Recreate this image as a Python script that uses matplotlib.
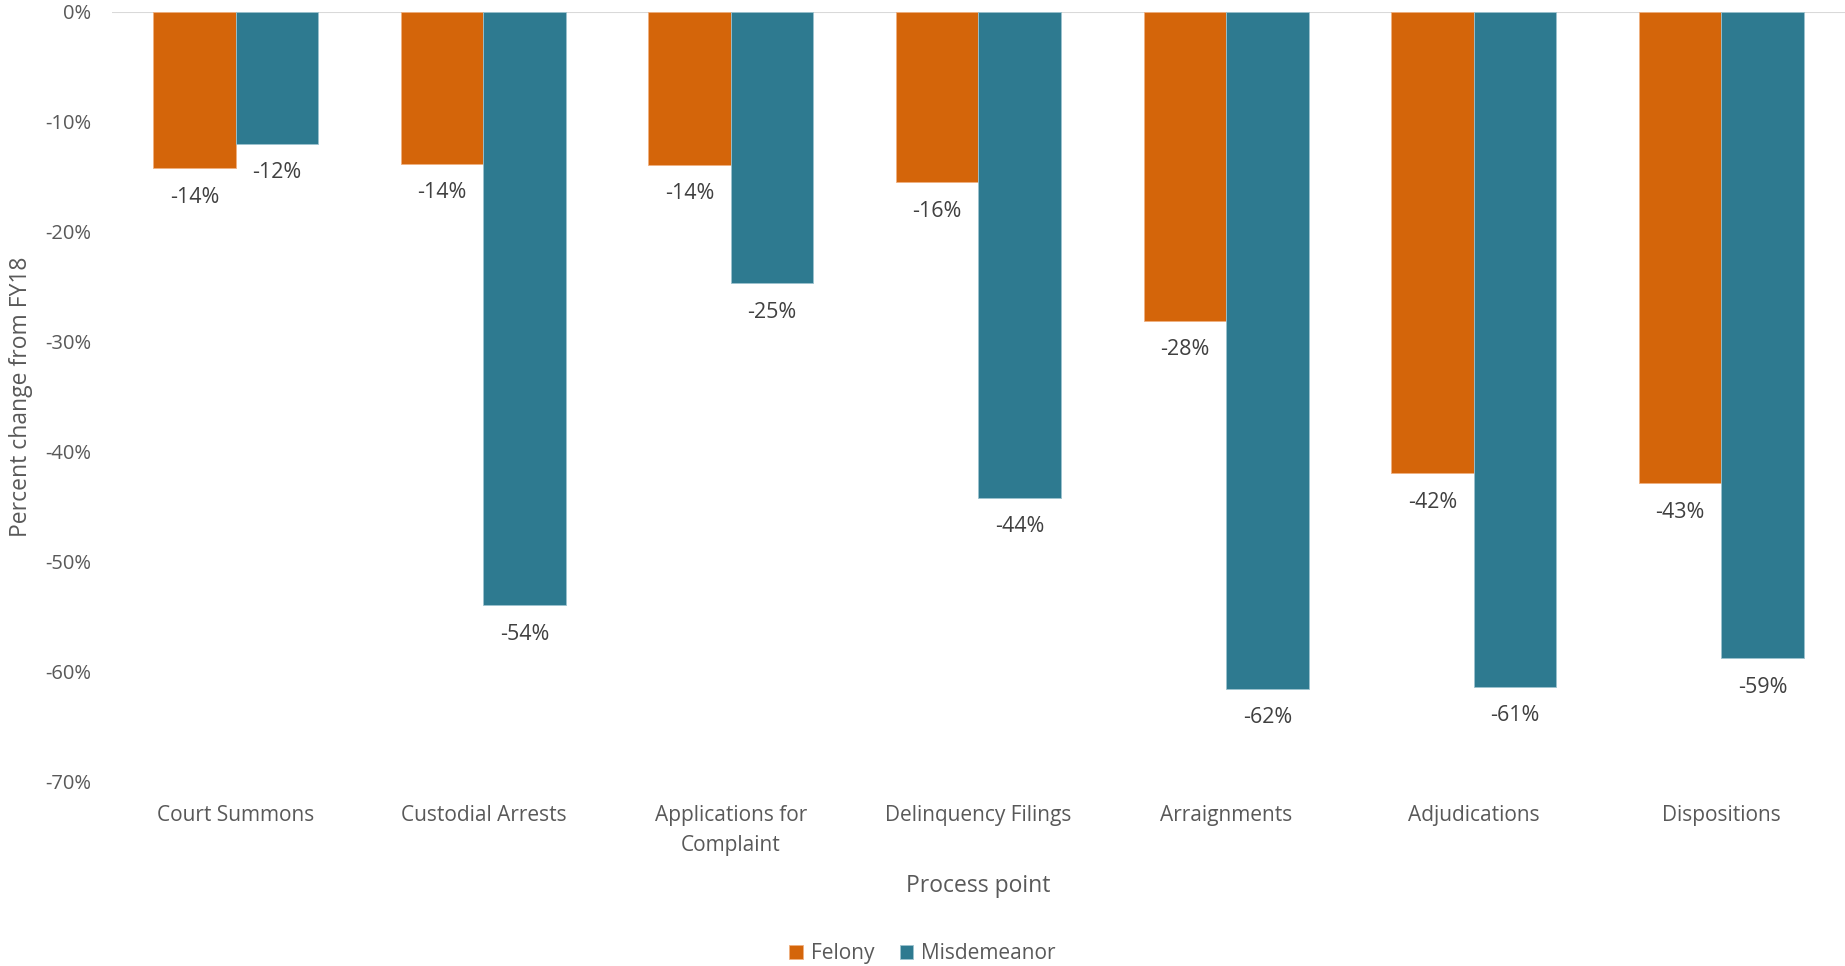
import numpy as np
import matplotlib.pyplot as plt

categories = ['Court Summons', 'Custodial Arrests', 'Applications for\nComplaint',
              'Delinquency Filings', 'Arraignments', 'Adjudications', 'Dispositions']
felony = [-14.2, -13.8, -13.9, -15.5, -28.1, -42.0, -42.9]
misdemeanor = [-12.0, -54.0, -24.7, -44.2, -61.6, -61.4, -58.8]

plt.rcParams['font.family'] = ['Open Sans', 'DejaVu Sans']
txt = '#595959'

fig = plt.figure(figsize=(18.45, 9.66), dpi=100)
ax = fig.add_axes([0.0607, 0.1915, 0.9393, 0.7961])

x = np.arange(len(categories))
width = 1 / 3
b1 = ax.bar(x - width / 2, felony, width=width, color='#D4650A', edgecolor='#F0B080',
            linewidth=0.6, label='Felony')
b2 = ax.bar(x + width / 2, misdemeanor, width=width, color='#2E7A90', edgecolor='#9CC3CF',
            linewidth=0.6, label='Misdemeanor')

for bars, vals in [(b1, felony), (b2, misdemeanor)]:
    for rect, v in zip(bars, vals):
        ax.annotate(f'{v:.0f}%', (rect.get_x() + rect.get_width() / 2, v),
                    xytext=(0, -21), textcoords='offset points', ha='center', va='center',
                    fontsize=15.5, color='#404040')

ax.set_xlim(-0.5, len(categories) - 0.5)
ax.set_ylim(-70, 0)
ax.set_yticks(np.arange(-70, 1, 10))
ax.set_yticklabels([f'{t}%' for t in np.arange(-70, 1, 10)])
ax.set_xticks(x)
ax.set_xticklabels(categories, linespacing=1.6)
ax.tick_params(axis='y', length=0, pad=15, labelsize=14.5, labelcolor=txt)
ax.tick_params(axis='x', length=0, pad=17, labelsize=15, labelcolor=txt)
for s in ax.spines.values():
    s.set_visible(False)
ax.axhline(0, color='#D9D9D9', linewidth=1.5, zorder=0)

ax.set_xlabel('Process point', fontsize=16.5, color=txt, labelpad=13)
ax.set_ylabel('Percent change from FY18', fontsize=16.5, color=txt, labelpad=9)

fig.legend(loc='center', bbox_to_anchor=(0.5, 0.013), ncol=2, frameon=False, fontsize=15,
           labelcolor=txt, handlelength=0.65, handleheight=0.65, handletextpad=0.4,
           columnspacing=1.2)

fig.savefig('out.png', dpi=100)
